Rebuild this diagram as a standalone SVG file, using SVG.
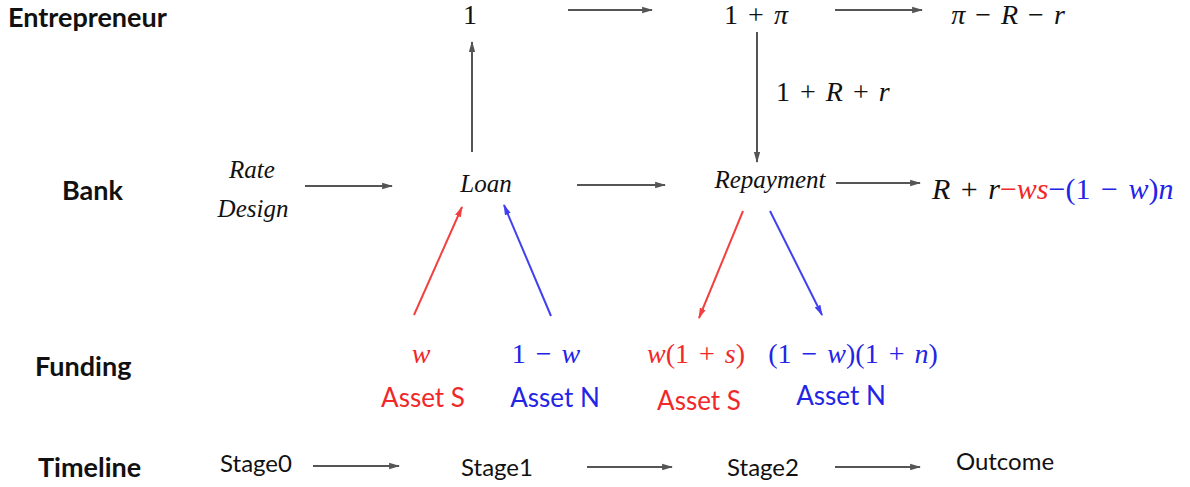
<svg xmlns="http://www.w3.org/2000/svg" width="1190" height="487" viewBox="0 0 1190 487">
<defs>
<style>
.lbl{font-family:Lato,"Liberation Sans",sans-serif;font-weight:bold;font-size:27px;fill:#111}
.st{font-family:Lato,"Liberation Sans",sans-serif;font-size:24px;fill:#111}
.m{font-family:"Liberation Serif","DejaVu Serif",serif;font-size:28px;fill:#111;word-spacing:3px}
.i{font-style:italic}
.it{font-family:"Liberation Serif","DejaVu Serif",serif;font-style:italic;font-size:25px;fill:#111}
.red{fill:#f0282a}
.blue{fill:#2424e6}
.as{font-family:Lato,"Liberation Sans",sans-serif;font-size:26px}
.c{stroke:#555;stroke-width:2;fill:none}
.cr{stroke:#f24040;stroke-width:2;fill:none}
.cb{stroke:#4040f0;stroke-width:2;fill:none}
</style>
<marker id="ah" viewBox="0 0 10 10" refX="9" refY="5" markerWidth="11" markerHeight="9" markerUnits="userSpaceOnUse" orient="auto" preserveAspectRatio="none"><path d="M0,1.5 L10,5 L0,8.5 z" fill="#555"/></marker>
<marker id="ahr" viewBox="0 0 10 10" refX="9" refY="5" markerWidth="11" markerHeight="9" markerUnits="userSpaceOnUse" orient="auto" preserveAspectRatio="none"><path d="M0,1.5 L10,5 L0,8.5 z" fill="#f24040"/></marker>
<marker id="ahb" viewBox="0 0 10 10" refX="9" refY="5" markerWidth="11" markerHeight="9" markerUnits="userSpaceOnUse" orient="auto" preserveAspectRatio="none"><path d="M0,1.5 L10,5 L0,8.5 z" fill="#4040f0"/></marker>
</defs>
<rect width="1190" height="487" fill="#fff"/>

<g id="row-labels">
<text class="lbl" x="8" y="27">Entrepreneur</text>
<text class="lbl" x="62" y="200">Bank</text>
<text class="lbl" x="35" y="376">Funding</text>
<text class="lbl" x="38" y="477">Timeline</text>
</g>

<g id="ent-1"><text class="m" x="470" y="24" text-anchor="middle">1</text></g>
<g id="ent-1pi"><text class="m" x="756" y="24" text-anchor="middle">1 + <tspan class="i">π</tspan></text></g>
<g id="ent-out"><text class="m" x="1008" y="24" text-anchor="middle"><tspan class="i">π</tspan> − <tspan class="i">R</tspan> − <tspan class="i">r</tspan></text></g>
<g id="lbl-1Rr"><text class="m" x="776" y="101">1 + <tspan class="i">R</tspan> + <tspan class="i">r</tspan></text></g>

<g id="rate-design">
<text class="it" x="252" y="178" text-anchor="middle">Rate</text>
<text class="it" x="253" y="217" text-anchor="middle">Design</text>
</g>
<g id="loan"><text class="it" x="486" y="192" text-anchor="middle">Loan</text></g>
<g id="repayment"><text class="it" x="770" y="188" text-anchor="middle">Repayment</text></g>
<g id="bank-out"><text class="m" x="932" y="199" style="font-size:30px"><tspan class="i">R</tspan> + <tspan class="i">r</tspan><tspan class="red">−<tspan class="i">ws</tspan></tspan><tspan class="blue">−(1 − <tspan class="i">w</tspan>)<tspan class="i">n</tspan></tspan></text></g>

<g id="fund-w"><text class="m red" x="421" y="363" text-anchor="middle"><tspan class="i">w</tspan></text>
<text class="as red" x="423" y="407" text-anchor="middle">Asset S</text></g>
<g id="fund-1w"><text class="m blue" x="546" y="363" text-anchor="middle">1 − <tspan class="i">w</tspan></text>
<text class="as blue" x="555" y="407" text-anchor="middle">Asset N</text></g>
<g id="fund-w1s"><text class="m red" x="696" y="363" text-anchor="middle"><tspan class="i">w</tspan>(1 + <tspan class="i">s</tspan>)</text>
<text class="as red" x="699" y="410" text-anchor="middle">Asset S</text></g>
<g id="fund-1w1n"><text class="m blue" x="853" y="363" text-anchor="middle">(1 − <tspan class="i">w</tspan>)(1 + <tspan class="i">n</tspan>)</text>
<text class="as blue" x="841" y="405" text-anchor="middle">Asset N</text></g>

<g id="stage0"><text class="st" x="256" y="472" text-anchor="middle">Stage0</text></g>
<g id="stage1"><text class="st" x="497" y="476" text-anchor="middle">Stage1</text></g>
<g id="stage2"><text class="st" x="763" y="476" text-anchor="middle">Stage2</text></g>
<g id="outcome"><text class="st" x="1005" y="470" text-anchor="middle">Outcome</text></g>

<g id="connectors">
<line class="c" x1="568" y1="10" x2="652" y2="10" marker-end="url(#ah)"/>
<line class="c" x1="835" y1="10" x2="922" y2="10" marker-end="url(#ah)"/>
<line class="c" x1="472" y1="152" x2="472" y2="42" marker-end="url(#ah)"/>
<line class="c" x1="757" y1="32" x2="757" y2="162" marker-end="url(#ah)"/>
<line class="c" x1="305" y1="186" x2="392" y2="186" marker-end="url(#ah)"/>
<line class="c" x1="577" y1="185" x2="665" y2="185" marker-end="url(#ah)"/>
<line class="c" x1="836" y1="183" x2="920" y2="183" marker-end="url(#ah)"/>
<line class="cr" x1="414" y1="315" x2="462" y2="207" marker-end="url(#ahr)"/>
<line class="cb" x1="551" y1="316" x2="504" y2="205" marker-end="url(#ahb)"/>
<line class="cr" x1="743" y1="211" x2="699" y2="318" marker-end="url(#ahr)"/>
<line class="cb" x1="770" y1="211" x2="822" y2="315" marker-end="url(#ahb)"/>
<line class="c" x1="313" y1="466" x2="399" y2="466" marker-end="url(#ah)"/>
<line class="c" x1="587" y1="467" x2="672" y2="467" marker-end="url(#ah)"/>
<line class="c" x1="835" y1="467" x2="920" y2="467" marker-end="url(#ah)"/>
</g>
</svg>
